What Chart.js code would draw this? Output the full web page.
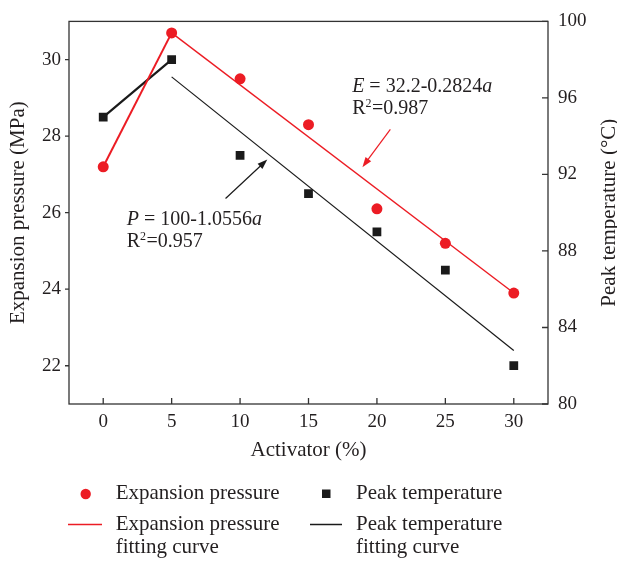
<!DOCTYPE html>
<html>
<head>
<meta charset="utf-8">
<script src="https://cdn.jsdelivr.net/npm/chart.js@4.4.1/dist/chart.umd.min.js"></script>
<style>
  html, body { margin: 0; padding: 0; background: #fff; }
  #chart { display: block; }
</style>
</head>
<body>
<canvas id="chart" width="617" height="563"></canvas>
<script>
// Values
const activator = [0, 5, 10, 15, 20, 25, 30];
const expansionPressure = [27.2, 30.7, 29.5, 28.3, 26.1, 25.2, 23.9];
const peakTemperature = [95, 98, 93, 91, 89, 87, 82];

// Fitting lines (drawn from 5% to 30%)
const fitX = [5, 30];
const pressureFit = [30.7, 23.9];
const temperatureFit = [97.1, 82.8];

const xTicks = [0, 5, 10, 15, 20, 25, 30];
const pressureTicks = [22, 24, 26, 28, 30];
const temperatureTicks = [80, 84, 88, 92, 96, 100];

const RED = '#ec1c24';
const BLACK = '#1a1a1a';
const TEXT = '#231f20';
const FONT = '"Liberation Serif", "Times New Roman", serif';

// Equation labels and arrows, placed in data units (left axis)
const annotations = [
    { x: 18.19, y: 29.16, color: RED,
      line1: [{t: 'E', italic: true}, {t: ' = 32.2-0.2824'}, {t: 'a', italic: true}],
      line2: [{t: 'R'}, {t: '2', sup: true}, {t: '=0.987'}],
      arrow: { from: [20.98, 28.18], to: [18.94, 27.19] } },
    { x: 1.72, y: 25.68, color: BLACK,
      line1: [{t: 'P', italic: true}, {t: ' = 100-1.0556'}, {t: 'a', italic: true}],
      line2: [{t: 'R'}, {t: '2', sup: true}, {t: '=0.957'}],
      arrow: { from: [8.94, 26.37], to: [11.99, 27.39] } }
];

const toPoints = (xs, ys) => xs.map((x, i) => ({ x: x, y: ys[i] }));

function drawRuns(ctx, x, y, runs, size) {
    runs.forEach(r => {
        const s = r.sup ? Math.round(size * 0.6) : size;
        ctx.font = (r.italic ? 'italic ' : '') + s + 'px ' + FONT;
        ctx.fillText(r.t, x, r.sup ? y - size * 0.36 : y);
        x += ctx.measureText(r.t).width + (r.sup ? 0.5 : 0);
    });
}

function drawArrow(ctx, x1, y1, x2, y2, color) {
    const ang = Math.atan2(y2 - y1, x2 - x1);
    const len = 10, half = 3.5;
    ctx.strokeStyle = color;
    ctx.fillStyle = color;
    ctx.lineWidth = 1.2;
    ctx.beginPath();
    ctx.moveTo(x1, y1);
    ctx.lineTo(x2 - Math.cos(ang) * len * 0.8, y2 - Math.sin(ang) * len * 0.8);
    ctx.stroke();
    ctx.beginPath();
    ctx.moveTo(x2, y2);
    ctx.lineTo(x2 - Math.cos(ang) * len - Math.sin(ang) * half, y2 - Math.sin(ang) * len + Math.cos(ang) * half);
    ctx.lineTo(x2 - Math.cos(ang) * len + Math.sin(ang) * half, y2 - Math.sin(ang) * len - Math.cos(ang) * half);
    ctx.closePath();
    ctx.fill();
}

// Frame, inner/outer ticks, right title, equations and legend
const decorations = {
    id: 'decorations',
    afterDraw(chart) {
        const ctx = chart.ctx;
        const { left, right, top, bottom } = chart.chartArea;
        const sx = chart.scales.x, sy = chart.scales.y, sy1 = chart.scales.y1;
        ctx.save();

        ctx.strokeStyle = '#333';
        ctx.lineWidth = 1.3;
        ctx.strokeRect(left, top, right - left, bottom - top);
        ctx.beginPath();
        xTicks.forEach(v => {
            const px = sx.getPixelForValue(v);
            ctx.moveTo(px, bottom); ctx.lineTo(px, bottom - 6);
        });
        pressureTicks.forEach(v => {
            const py = sy.getPixelForValue(v);
            ctx.moveTo(left, py); ctx.lineTo(left - 4, py);
        });
        temperatureTicks.forEach(v => {
            const py = sy1.getPixelForValue(v);
            ctx.moveTo(right, py); ctx.lineTo(right - 6, py);
        });
        ctx.stroke();

        // right axis title reads bottom-to-top like the left one
        ctx.save();
        ctx.translate(609, (top + bottom) / 2);
        ctx.rotate(-Math.PI / 2);
        ctx.fillStyle = TEXT;
        ctx.font = '21px ' + FONT;
        ctx.textAlign = 'center';
        ctx.textBaseline = 'middle';
        ctx.fillText('Peak temperature (°C)', 0, 0);
        ctx.restore();

        // equations
        ctx.textAlign = 'left';
        ctx.textBaseline = 'alphabetic';
        annotations.forEach(a => {
            const px = sx.getPixelForValue(a.x);
            const py = sy.getPixelForValue(a.y);
            ctx.fillStyle = TEXT;
            drawRuns(ctx, px, py, a.line1, 20);
            drawRuns(ctx, px, py + 22.5, a.line2, 20);
            drawArrow(ctx,
                sx.getPixelForValue(a.arrow.from[0]), sy.getPixelForValue(a.arrow.from[1]),
                sx.getPixelForValue(a.arrow.to[0]), sy.getPixelForValue(a.arrow.to[1]), a.color);
        });

        // legend
        ctx.fillStyle = RED;
        ctx.beginPath();
        ctx.arc(85.7, 494, 5.2, 0, Math.PI * 2);
        ctx.fill();
        ctx.fillStyle = BLACK;
        ctx.fillRect(322, 489.5, 8.5, 8.5);
        ctx.lineWidth = 1.5;
        ctx.strokeStyle = RED;
        ctx.beginPath(); ctx.moveTo(68, 524.5); ctx.lineTo(102, 524.5); ctx.stroke();
        ctx.strokeStyle = BLACK;
        ctx.beginPath(); ctx.moveTo(310, 524.5); ctx.lineTo(342, 524.5); ctx.stroke();

        ctx.fillStyle = TEXT;
        ctx.font = '21px ' + FONT;
        ctx.fillText('Expansion pressure', 115.7, 499.3);
        ctx.fillText('Peak temperature', 356, 499.3);
        ctx.fillText('Expansion pressure', 115.7, 530);
        ctx.fillText('fitting curve', 115.7, 553.3);
        ctx.fillText('Peak temperature', 356, 530);
        ctx.fillText('fitting curve', 356, 553.3);
        ctx.restore();
    }
};

document.addEventListener('DOMContentLoaded', function() {
    const ctx = document.getElementById('chart').getContext('2d');

    new Chart(ctx, {
        type: 'scatter',
        data: {
            datasets: [
                {
                    label: 'Expansion pressure',
                    data: toPoints(activator, expansionPressure),
                    yAxisID: 'y',
                    pointStyle: 'circle',
                    pointRadius: 5.5,
                    backgroundColor: RED,
                    borderWidth: 0,
                    order: 1
                },
                {
                    label: 'Peak temperature',
                    data: toPoints(activator, peakTemperature),
                    yAxisID: 'y1',
                    pointStyle: 'rect',
                    pointRadius: 6.2,
                    backgroundColor: BLACK,
                    borderWidth: 0,
                    order: 2
                },
                {
                    label: 'pressure 0-5',
                    data: toPoints(activator.slice(0, 2), expansionPressure.slice(0, 2)),
                    yAxisID: 'y',
                    showLine: true,
                    pointRadius: 0,
                    borderColor: RED,
                    borderWidth: 2,
                    order: 3
                },
                {
                    label: 'temperature 0-5',
                    data: toPoints(activator.slice(0, 2), peakTemperature.slice(0, 2)),
                    yAxisID: 'y1',
                    showLine: true,
                    pointRadius: 0,
                    borderColor: BLACK,
                    borderWidth: 2.2,
                    order: 4
                },
                {
                    label: 'Expansion pressure fitting curve',
                    data: toPoints(fitX, pressureFit),
                    yAxisID: 'y',
                    showLine: true,
                    pointRadius: 0,
                    borderColor: RED,
                    borderWidth: 1.4,
                    order: 5
                },
                {
                    label: 'Peak temperature fitting curve',
                    data: toPoints(fitX, temperatureFit),
                    yAxisID: 'y1',
                    showLine: true,
                    pointRadius: 0,
                    borderColor: BLACK,
                    borderWidth: 1.2,
                    order: 6
                }
            ]
        },
        options: {
            responsive: false,
            animation: false,
            layout: { padding: { left: 0, right: 0, top: 17, bottom: 99 } },
            scales: {
                x: {
                    type: 'linear',
                    min: -2.5,
                    max: 32.5,
                    afterBuildTicks: s => { s.ticks = xTicks.map(v => ({ value: v })); },
                    afterFit: s => { s.height = 60; },
                    grid: { display: false, drawTicks: false },
                    border: { display: false },
                    ticks: { color: TEXT, font: { family: FONT, size: 19 }, padding: 7 },
                    title: {
                        display: true,
                        text: 'Activator (%)',
                        color: TEXT,
                        font: { family: FONT, size: 21 },
                        padding: { top: 4, bottom: 1 }
                    }
                },
                y: {
                    position: 'left',
                    min: 21,
                    max: 31,
                    afterBuildTicks: s => { s.ticks = pressureTicks.map(v => ({ value: v })); },
                    afterFit: s => { s.width = 69; },
                    grid: { display: false, drawTicks: false },
                    border: { display: false },
                    ticks: { color: TEXT, font: { family: FONT, size: 19 }, padding: 8 },
                    title: {
                        display: true,
                        text: 'Expansion pressure (MPa)',
                        color: TEXT,
                        font: { family: FONT, size: 21 },
                        padding: { top: 6, bottom: 0 }
                    }
                },
                y1: {
                    position: 'right',
                    min: 80,
                    max: 100,
                    afterBuildTicks: s => { s.ticks = temperatureTicks.map(v => ({ value: v })); },
                    afterFit: s => { s.width = 69; },
                    grid: { display: false, drawTicks: false },
                    border: { display: false },
                    ticks: { color: TEXT, font: { family: FONT, size: 19 }, padding: 10 }
                }
            },
            plugins: {
                legend: { display: false },
                tooltip: { enabled: false }
            }
        },
        plugins: [decorations]
    });
});
</script>
</body>
</html>
